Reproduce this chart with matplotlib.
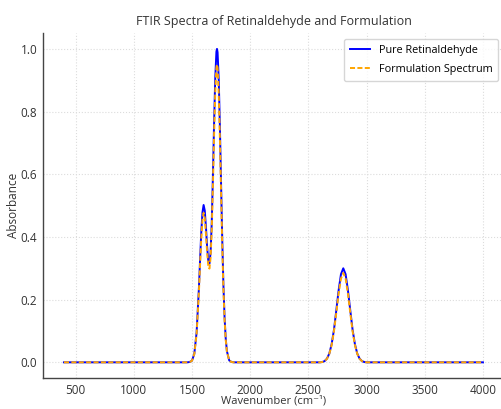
import matplotlib
matplotlib.use("Agg")
import matplotlib.pyplot as plt

# wavenumbers (cm^-1) and absorbance
wavenumber = [400, 1460, 1480, 1500, 1520, 1540, 1560, 1570, 1580, 1590,
              1600, 1610, 1620, 1630, 1640, 1650, 1660, 1670, 1680, 1690,
              1700, 1710, 1715, 1720, 1730, 1740, 1750, 1760, 1770, 1780,
              1790, 1800, 1820, 1840, 1860, 2580, 2600, 2620, 2640, 2660,
              2680, 2700, 2720, 2740, 2760, 2780, 2800, 2820, 2840, 2860,
              2880, 2900, 2920, 2940, 2960, 2980, 3000, 3020, 4000]

pure_abs = [0.0, 0.0, 0.001, 0.005, 0.027, 0.096, 0.240, 0.331, 0.416, 0.478,
            0.502, 0.484, 0.432, 0.370, 0.325, 0.315, 0.350, 0.447, 0.596, 0.763,
            0.907, 0.991, 1.000, 0.989, 0.902, 0.751, 0.570, 0.395, 0.249, 0.144,
            0.076, 0.036, 0.006, 0.001, 0.0, 0.0, 0.0, 0.001, 0.004, 0.012,
            0.028, 0.058, 0.104, 0.166, 0.230, 0.281, 0.300, 0.281, 0.230, 0.166,
            0.104, 0.058, 0.028, 0.012, 0.004, 0.001, 0.0, 0.0, 0.0]

formulation_abs = [0.0, 0.0, 0.001, 0.005, 0.026, 0.091, 0.228, 0.314, 0.395, 0.454,
                   0.477, 0.460, 0.410, 0.352, 0.309, 0.299, 0.333, 0.425, 0.566, 0.725,
                   0.862, 0.941, 0.950, 0.940, 0.857, 0.713, 0.542, 0.375, 0.237, 0.137,
                   0.072, 0.034, 0.006, 0.001, 0.0, 0.0, 0.0, 0.001, 0.004, 0.011,
                   0.027, 0.055, 0.099, 0.158, 0.219, 0.267, 0.285, 0.267, 0.219, 0.158,
                   0.099, 0.055, 0.027, 0.011, 0.004, 0.001, 0.0, 0.0, 0.0]

x_ticks = [500, 1000, 1500, 2000, 2500, 3000, 3500, 4000]
y_ticks = [0.0, 0.2, 0.4, 0.6, 0.8, 1.0]

plt.rcParams['font.family'] = ['Open Sans', 'DejaVu Sans']

fig = plt.figure(figsize=(5.01, 4.09), dpi=100)
ax = fig.add_axes([0.0858, 0.0758, 0.920, 0.843])

ax.plot(wavenumber, pure_abs, color='blue', lw=1.4, label='Pure Retinaldehyde')
ax.plot(wavenumber, formulation_abs, color='orange', lw=1.4, ls=(0, (2.6, 1.2)),
        label='Formulation Spectrum')

ax.set_xticks(x_ticks)
ax.set_yticks(y_ticks)
ax.set_xlim(220, 4180)
ax.set_ylim(-0.05, 1.05)

ax.grid(True, color='#dcdcdc', ls=':', lw=0.8)
ax.set_axisbelow(True)
for side in ['top', 'right']:
    ax.spines[side].set_visible(False)
for side in ['left', 'bottom']:
    ax.spines[side].set_color('#444444')
    ax.spines[side].set_linewidth(1.0)
ax.tick_params(length=0, pad=4, labelsize=8.5, labelcolor='#333333')

ax.set_title('FTIR Spectra of Retinaldehyde and Formulation', fontsize=9,
             color='#333333', pad=6)
ax.set_xlabel('Wavenumber (cm⁻¹)', fontsize=8, color='#333333')
ax.set_ylabel('Absorbance', fontsize=8.5, color='#333333')
ax.xaxis.set_label_coords(0.5, -0.052)
ax.yaxis.set_label_coords(-0.05, 0.5)

leg = ax.legend(loc='upper right', fontsize=7.8, frameon=True, fancybox=True,
                borderaxespad=0.5, handlelength=1.9, labelspacing=0.75,
                borderpad=0.55)
leg.get_frame().set_edgecolor('#cccccc')

fig.savefig('out.png', dpi=100)
